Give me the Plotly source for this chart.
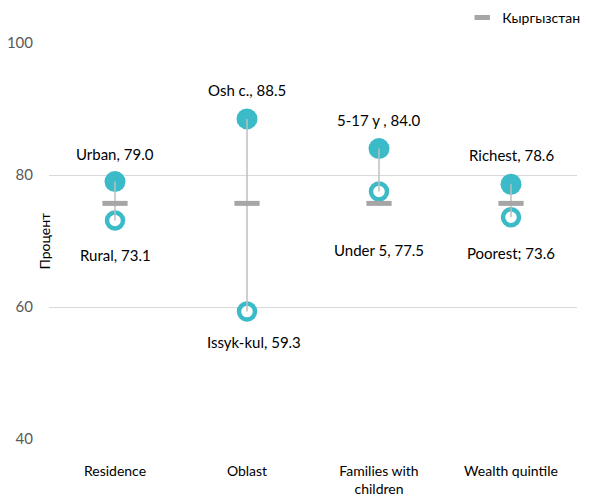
import plotly.graph_objects as go

categories = ["Residence", "Oblast", "Families with<br>children", "Wealth quintile"]
high_names = ["Urban", "Osh c.", "5-17 y ", "Richest"]
high_values = [79.0, 88.5, 84.0, 78.6]
low_names = ["Rural", "Issyk-kul", "Under 5", "Poorest"]
low_values = [73.1, 59.3, 77.5, 73.6]
low_seps = [",", ",", ",", ";"]
national_name = "Кыргызстан"
national_values = [75.7, 75.7, 75.7, 75.7]
y_ticks = [40, 60, 80, 100]

TEAL = "#3BBAC7"
GRAY = "#A6A6A6"
FONT = "Lato, 'Open Sans', sans-serif"

# per-label style offsets (pixels)
high_yshift = [28, 29, 29, 29]
low_yshift = [-34, -30, -58, -36]
low_xshift = [0, 7, 0, 0]

fig = go.Figure()

fig.add_trace(go.Scatter(
    x=categories, y=high_values, mode="markers", showlegend=False,
    marker=dict(symbol="circle", size=21, color=TEAL, line=dict(width=0)),
    hoverinfo="skip"))
fig.add_trace(go.Scatter(
    x=categories, y=low_values, mode="markers", showlegend=False,
    marker=dict(symbol="circle", size=16, color="white", line=dict(width=4.5, color=TEAL)),
    hoverinfo="skip"))

lx, ly = [], []
for c, h, l in zip(categories, high_values, low_values):
    lx += [c, c, None]
    ly += [h, l, None]
fig.add_trace(go.Scatter(x=lx, y=ly, mode="lines", showlegend=False,
                         line=dict(color="#BFBFBF", width=1.5), hoverinfo="skip"))

fig.add_trace(go.Scatter(
    x=categories, y=national_values, mode="markers", name=national_name,
    showlegend=False, legendgroup="nat",
    marker=dict(symbol="line-ew", size=18, line=dict(width=5, color=GRAY)),
    hoverinfo="skip"))
# legend entry (smaller swatch, as in reference)
fig.add_trace(go.Scatter(
    x=[None], y=[None], mode="markers", name=national_name, legendgroup="nat",
    marker=dict(symbol="line-ew", size=11, line=dict(width=5, color=GRAY)),
    hoverinfo="skip"))

for i, c in enumerate(categories):
    fig.add_annotation(x=c, y=high_values[i], text=f"{high_names[i]}, {high_values[i]:.1f}",
                       showarrow=False, yshift=high_yshift[i],
                       font=dict(family=FONT, size=15, color="#000000"))
    fig.add_annotation(x=c, y=low_values[i], text=f"{low_names[i]}{low_seps[i]} {low_values[i]:.1f}",
                       showarrow=False, yshift=low_yshift[i], xshift=low_xshift[i],
                       font=dict(family=FONT, size=15, color="#000000"))

fig.add_annotation(xref="paper", yref="paper", x=0, y=0.5, xanchor="right", yanchor="middle",
                   xshift=5, text="Процент", textangle=-90, showarrow=False,
                   font=dict(family=FONT, size=14, color="#000000"))

# page body has an 8px default margin, so the figure is sized/margined to compensate
fig.update_layout(
    width=589, height=489,
    margin=dict(l=41, r=20, t=35, b=58, autoexpand=False),
    paper_bgcolor="white", plot_bgcolor="white",
    font=dict(family=FONT, size=15, color="#000000"),
    legend=dict(orientation="h", xref="container", yref="container",
                x=0.98, xanchor="right", y=0.98, yanchor="middle",
                font=dict(family=FONT, size=14, color="#000000"),
                itemwidth=30, bgcolor="rgba(0,0,0,0)"),
    xaxis=dict(type="category", range=[-0.5, 3.5], showgrid=False, zeroline=False,
               showline=False, ticks="", ticklabelstandoff=22,
               tickfont=dict(family=FONT, size=14, color="#000000")),
    yaxis=dict(range=[40, 100], tickvals=y_ticks, showgrid=True, gridcolor="#D9D9D9",
               gridwidth=1, zeroline=False, showline=False, ticks="",
               ticklabelstandoff=15,
               tickfont=dict(family=FONT, size=15, color="#595959")),
)

fig.write_html("out.html")
